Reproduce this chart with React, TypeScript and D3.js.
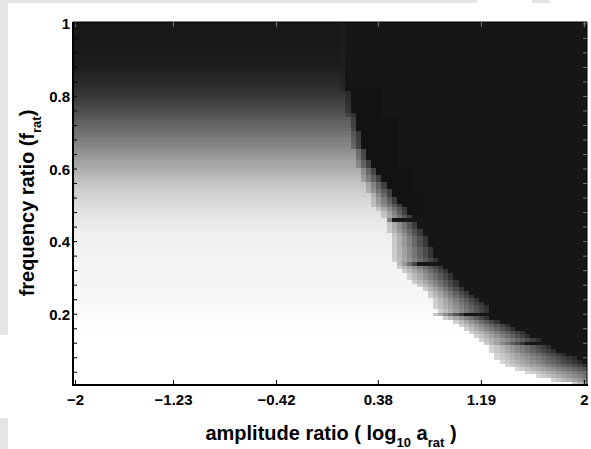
import React from 'react';
import * as d3 from 'd3';

// ---- grid definition (100 columns of log10 a from -2 to 2, 100 rows of f from 0.01 to 1) ----
const N_COLS = 100;
const A_MIN = -2;
const A_MAX = 2;
const colValues = d3.range(N_COLS).map((i) => A_MIN + (i * (A_MAX - A_MIN)) / (N_COLS - 1));
const rowValues = d3.range(1, 101).map((i) => i / 100);

// ---- data, row index 0 = f 0.01 ... 99 = f 1.00 ----
// gray level (0-255) of the smooth left region for each frequency row
const leftShade = [
  255, 255, 255, 255, 255, 255, 255, 255, 255, 255,
  255, 255, 255, 255, 255, 254, 253, 252, 251, 250,
  249, 248, 248, 247, 247, 246, 246, 245, 245, 245,
  244, 244, 244, 243, 243, 243, 242, 242, 241, 240,
  239, 238, 237, 235, 233, 231, 229, 226, 223, 220,
  217, 213, 209, 205, 201, 196, 191, 186, 180, 174,
  168, 162, 156, 150, 144, 138, 132, 126, 120, 114,
  108, 102, 96, 90, 84, 78, 72, 67, 62, 57,
  53, 49, 45, 42, 39, 36, 33, 31, 29, 28,
  27, 26, 25, 24, 24, 23, 23, 23, 23, 23,
];
// first column of the transition band
const edgeCol = [
  97, 93, 90, 88, 86, 84, 83, 82, 82, 81,
  81, 80, 79, 78, 77, 76, 75, 74, 72, 70,
  71, 70, 70, 70, 69, 69, 68, 67, 66, 65,
  65, 64, 63, 63, 62, 62, 62, 62, 62, 62,
  62, 62, 61, 61, 61, 61, 60, 60, 59, 58,
  58, 58, 58, 57, 57, 57, 56, 56, 56, 56,
  55, 55, 55, 55, 55, 54, 54, 54, 54, 54,
  54, 54, 54, 54, 53, 53, 53, 53, 53, 53,
  53, 52, 52, 52, 52, 52, 52, 52, 52, 52,
  52, 52, 52, 52, 52, 52, 52, 52, 52, 52,
];
// first fully dark column
const darkCol = [
  106, 107, 107, 106, 104, 101, 99, 98, 96, 94,
  93, 88, 91, 89, 88, 86, 85, 83, 81, 76,
  81, 81, 80, 79, 78, 77, 76, 75, 75, 74,
  74, 73, 72, 67, 71, 70, 70, 70, 69, 69,
  69, 68, 68, 67, 67, 62, 66, 65, 65, 64,
  63, 63, 62, 62, 61, 61, 60, 60, 59, 59,
  58, 58, 57, 57, 57, 56, 56, 56, 56, 56,
  55, 55, 55, 55, 55, 54, 54, 54, 54, 54,
  54, 53, 53, 53, 53, 53, 53, 53, 53, 53,
  53, 53, 53, 53, 53, 53, 53, 53, 53, 53,
];
// end of the slightly deeper black next to the boundary (0 = none)
const shadowEnd = [
  0, 0, 0, 0, 0, 0, 0, 0, 0, 0,
  0, 0, 0, 0, 0, 0, 0, 0, 0, 0,
  0, 0, 0, 0, 0, 0, 0, 0, 0, 0,
  0, 0, 0, 0, 0, 0, 0, 0, 0, 0,
  0, 0, 0, 0, 0, 0, 0, 68, 68, 68,
  68, 68, 68, 66, 66, 66, 66, 66, 66, 66,
  63, 63, 63, 63, 63, 63, 63, 63, 63, 63,
  63, 63, 63, 63, 60, 60, 60, 60, 60, 60,
  60, 60, 0, 0, 0, 0, 0, 0, 0, 0,
  0, 0, 0, 0, 0, 0, 0, 0, 0, 0,
];
const DARK = 22;
const SHADOW = 18;

const xTickValues = [-2, -1.23, -0.42, 0.38, 1.19, 2];
const xTickLabels = ['\u22122', '\u22121.23', '\u22120.42', '0.38', '1.19', '2'];
const yTickValues = d3.range(1, 26).map((i) => i * 0.04);
const yLabelValues = [0.2, 0.4, 0.6, 0.8, 1];
const yLabelTexts = ['0.2', '0.4', '0.6', '0.8', '1'];

const W = 591;
const H = 449;
const PL = 73;
const PR = 587;
const PT = 22;
const PB = 385;
const FONT = "'Liberation Sans', Arial, Helvetica, sans-serif";

function cellGray(r: number, c: number): number {
  const s = leftShade[r];
  const e = edgeCol[r];
  const d = darkCol[r];
  if (c < e) return s;
  if (c < d) {
    const start = Math.min(s, 225);
    const t = (c - e + 1) / (d - e + 1);
    return Math.round(start + (32 - start) * t);
  }
  if (c < shadowEnd[r]) return SHADOW;
  return DARK;
}

export default function App() {
  const step = (A_MAX - A_MIN) / (N_COLS - 1);
  const x = d3.scaleLinear().domain([A_MIN - step / 2, A_MAX + step / 2]).range([PL, PR]);
  const y = d3.scaleLinear().domain([0.005, 1.005]).range([PB, PT]);

  const cells: React.ReactNode[] = [];
  rowValues.forEach((f, r) => {
    const y0 = y(f + 0.005);
    const y1 = y(f - 0.005);
    colValues.forEach((a, c) => {
      const x0 = x(a - step / 2);
      const x1 = x(a + step / 2);
      const g = cellGray(r, c);
      cells.push(
        <rect key={`${r}-${c}`} x={x0} y={y0} width={x1 - x0 + 0.3} height={y1 - y0 + 0.3}
          fill={`rgb(${g},${g},${g})`} />
      );
    });
  });

  return (
    <svg width={W} height={H} style={{ position: 'absolute', left: 0, top: 0, background: '#fff' }}
      fontFamily={FONT} fontWeight="bold">
      {/* page frame remnants */}
      <rect x={0} y={0} width={477} height={3} fill="#e5e5e5" />
      <rect x={532} y={0} width={18} height={3} fill="#e5e5e5" />
      <rect x={0} y={0} width={8} height={335} fill="#e5e5e5" />
      <rect x={0} y={418} width={8} height={31} fill="#e5e5e5" />

      <g shapeRendering="crispEdges">{cells}</g>

      {/* box */}
      <line x1={PL} x2={PR} y1={PT} y2={PT} stroke="#000" strokeWidth={1} />
      <line x1={PR} x2={PR} y1={PT} y2={PB} stroke="#000" strokeWidth={1} />
      <line x1={PL} x2={PL} y1={PT} y2={PB + 1} stroke="#000" strokeWidth={2} />
      <line x1={PL - 1} x2={PR + 1} y1={PB} y2={PB} stroke="#000" strokeWidth={2} />

      {/* x ticks */}
      {xTickValues.map((v, i) => (
        <g key={`xt${i}`}>
          <line x1={x(v)} x2={x(v)} y1={PB} y2={PB - 5} stroke="#000" strokeWidth={1} />
          <line x1={x(v)} x2={x(v)} y1={PT} y2={PT + 5} stroke="#777" strokeWidth={1} />
          <text x={x(v)} y={405} textAnchor="middle" fontSize={15}>{xTickLabels[i]}</text>
        </g>
      ))}
      {/* y ticks */}
      {yTickValues.map((v, i) => (
        <g key={`yt${i}`}>
          <line x1={PL} x2={PL + 4} y1={y(v)} y2={y(v)} stroke="#000" strokeWidth={1} />
          <line x1={PR} x2={PR - 4} y1={y(v)} y2={y(v)} stroke="#777" strokeWidth={1} />
        </g>
      ))}
      {yLabelValues.map((v, i) => (
        <text key={`yl${i}`} x={70} y={y(v) + 5.5} textAnchor="end" fontSize={15}>{yLabelTexts[i]}</text>
      ))}

      {/* axis labels */}
      <text x={331} y={440} textAnchor="middle" fontSize={20}>
        amplitude ratio ( log
        <tspan fontSize={13} dy={7}>10</tspan>
        <tspan dy={-7}> a</tspan>
        <tspan fontSize={13} dy={7}>rat</tspan>
        <tspan dy={-7}> )</tspan>
      </text>
      <text transform="translate(34,203) rotate(-90)" textAnchor="middle" fontSize={20}>
        frequency ratio (f
        <tspan fontSize={13} dy={7}>rat</tspan>
        <tspan dy={-7}>)</tspan>
      </text>
    </svg>
  );
}
